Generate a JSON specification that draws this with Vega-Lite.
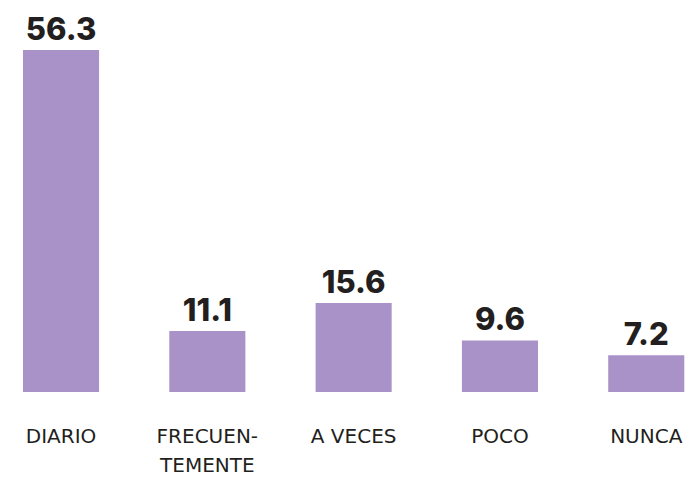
{
  "$schema": "https://vega.github.io/schema/vega-lite/v6.json",
  "autosize": {"type": "none"},
  "width": 697,
  "height": 342,
  "padding": {"top": 50, "left": 0, "right": 0, "bottom": 85},
  "background": "white",
  "config": {"view": {"stroke": null}},
  "data": {
    "values": [
      {"categoria": "DIARIO", "valor": 56.3},
      {"categoria": "FRECUENTEMENTE", "valor": 11.1},
      {"categoria": "A VECES", "valor": 15.6},
      {"categoria": "POCO", "valor": 9.6},
      {"categoria": "NUNCA", "valor": 7.2}
    ]
  },
  "encoding": {
    "x": {
      "field": "categoria",
      "type": "nominal",
      "sort": null,
      "scale": {"paddingInner": 0.48, "paddingOuter": 0.122, "align": 0.644},
      "axis": {
        "title": null,
        "domain": false,
        "ticks": false,
        "labelAngle": 0,
        "labelFont": "DejaVu Sans",
        "labelFontSize": 20,
        "labelColor": "#231f20",
        "labelBaseline": "top",
        "labelPadding": 34,
        "labelLineHeight": 29,
        "labelOverlap": false,
        "labelLimit": 0,
        "labelExpr": "datum.value == 'FRECUENTEMENTE' ? ['FRECUEN-', 'TEMENTE'] : datum.label"
      }
    },
    "y": {
      "field": "valor",
      "type": "quantitative",
      "stack": null,
      "scale": {"domain": [1.3, 56.3], "nice": false, "zero": false},
      "axis": null
    }
  },
  "layer": [
    {"mark": {"type": "bar", "color": "#a992c8"}},
    {
      "mark": {
        "type": "text",
        "dy": -10,
        "baseline": "alphabetic",
        "font": "Inter",
        "fontWeight": 800,
        "fontSize": 31,
        "color": "#231f20"
      },
      "encoding": {"text": {"field": "valor", "type": "quantitative", "format": ".1f"}}
    }
  ]
}
